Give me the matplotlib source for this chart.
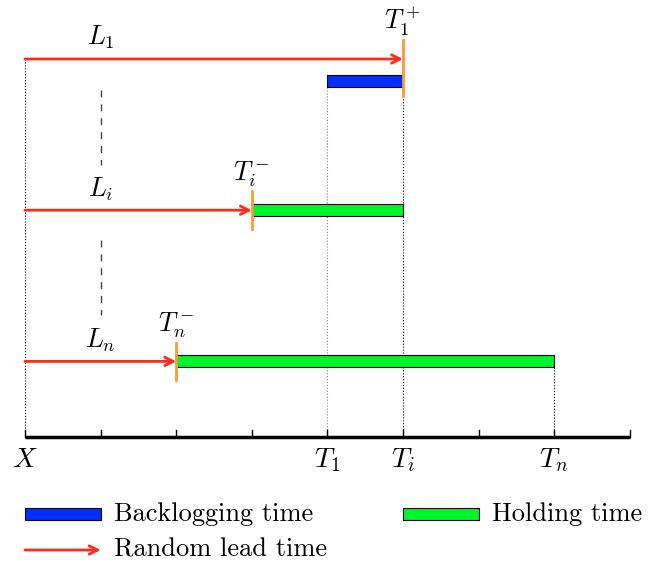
import numpy as np
import matplotlib
matplotlib.use('Agg')
import matplotlib.pyplot as plt
from matplotlib.patches import Rectangle, FancyArrowPatch

plt.rcParams['mathtext.fontset'] = 'cm'
plt.rcParams['font.family'] = 'serif'

# rows of the diagram (top to bottom)
row_y = [5.0, 3.0, 1.0]
lead_end = [5, 3, 2]          # arrow L goes from X=0 to here
bar_start = [4, 3, 2]
bar_end = [5, 5, 7]
bar_kind = ['back', 'hold', 'hold']
lead_labels = [r'$L_1$', r'$L_i$', r'$L_n$']
mark_labels = [r'$T_1^+$', r'$T_i^-$', r'$T_n^-$']

tick_pos = [0, 4, 5, 7]
tick_labels = [r'$X$', r'$T_1$', r'$T_i$', r'$T_n$']

blue = '#0030ff'
green = '#00f52a'
red = '#ff2a1a'
orange = '#ff9933'

fig = plt.figure(figsize=(6.65, 5.66), dpi=100)
ax = fig.add_axes([0, 0, 1, 1])
ax.set_xlim(-25 / 75.6, 640 / 75.6)
ax.set_ylim(-129 / 75.6, 437 / 75.6)
ax.axis('off')

bh = 0.16
for k in range(len(row_y)):
    y = row_y[k]
    by = y - 0.29 if bar_kind[k] == 'back' else y
    col = blue if bar_kind[k] == 'back' else green
    ax.add_patch(Rectangle((bar_start[k], by - bh / 2), bar_end[k] - bar_start[k], bh,
                           facecolor=col, edgecolor='black', lw=0.8, zorder=3))
    ax.add_patch(FancyArrowPatch((0, y), (lead_end[k], y), arrowstyle='->', mutation_scale=15,
                                 color=red, lw=2, shrinkA=0, shrinkB=0, zorder=4))
    # orange marker at arrival
    if bar_kind[k] == 'back':
        y0, y1 = y + 0.25, by - 0.2
    else:
        y0, y1 = y + 0.25, y - 0.25
    ax.plot([lead_end[k], lead_end[k]], [y0, y1], color=orange, lw=2, zorder=5)
    ax.text(1, y + 0.1, lead_labels[k], fontsize=19, ha='center', va='bottom')
    ax.text(lead_end[k], y0 + 0.03, mark_labels[k], fontsize=19, ha='center', va='bottom')

# dotted guides down to the axis
ax.plot([0, 0], [row_y[0], 0], ls=':', color='black', lw=0.8, zorder=1)
ax.plot([bar_start[0], bar_start[0]], [row_y[0] - 0.29 - bh / 2, 0], ls=':', color='gray', lw=0.8, zorder=1)
ax.plot([bar_end[0], bar_end[0]], [row_y[0] - 0.29 - bh / 2, 0], ls=':', color='black', lw=0.8, zorder=1)
ax.plot([bar_end[2], bar_end[2]], [row_y[2] - bh / 2, 0], ls=':', color='black', lw=0.8, zorder=1)

# dashed "..." between rows
ax.plot([1, 1], [4.59, 3.6], ls=(0, (5, 5)), color='#444444', lw=1)
ax.plot([1, 1], [2.6, 1.61], ls=(0, (5, 5)), color='#444444', lw=1)

# time axis
ax.plot([0, 8], [0, 0], color='black', lw=2.5, solid_capstyle='butt', zorder=6)
for xt in range(9):
    ax.plot([xt, xt], [0, 0.09], color='black', lw=1, zorder=6)
for p, lab in zip(tick_pos, tick_labels):
    ax.text(p, -0.12, lab, fontsize=20, ha='center', va='top')

# legend
ly1 = -77 / 75.6
ly2 = -113 / 75.6
ax.add_patch(Rectangle((0, ly1 - bh / 2), 1, bh, facecolor=blue, edgecolor='black', lw=0.8))
ax.text(1.18, ly1, 'Backlogging time', fontsize=19, ha='left', va='center', family='cmr10')
ax.add_patch(Rectangle((5, ly1 - bh / 2), 1, bh, facecolor=green, edgecolor='black', lw=0.8))
ax.text(6.18, ly1, 'Holding time', fontsize=19, ha='left', va='center', family='cmr10')
ax.add_patch(FancyArrowPatch((0, ly2), (1, ly2), arrowstyle='->', mutation_scale=15,
                             color=red, lw=2, shrinkA=0, shrinkB=0))
ax.text(1.18, ly2, 'Random lead time', fontsize=19, ha='left', va='center', family='cmr10')

fig.savefig('out.png', dpi=100)
